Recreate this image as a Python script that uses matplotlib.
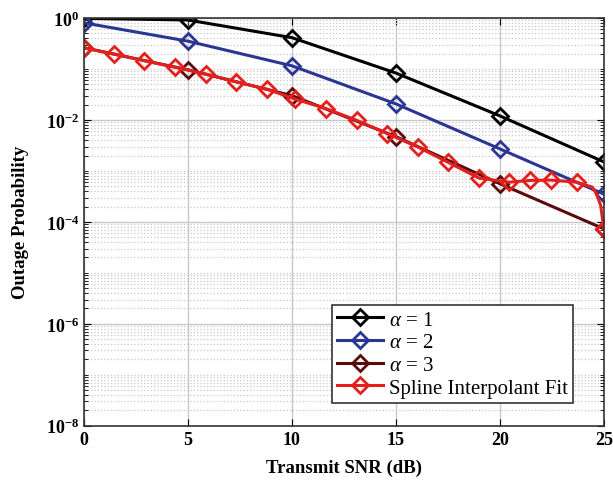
import math
import matplotlib.pyplot as plt
from matplotlib.ticker import FixedLocator, FuncFormatter, NullFormatter

plt.rcParams['font.family'] = ['Liberation Serif', 'DejaVu Serif']
plt.rcParams['mathtext.fontset'] = 'custom'
plt.rcParams['mathtext.rm'] = 'Liberation Serif'
plt.rcParams['mathtext.it'] = 'Liberation Serif:italic'
plt.rcParams['mathtext.bf'] = 'Liberation Serif:bold'

# simulated curves
snr = [0, 5, 10, 15, 20, 25]
alpha1 = [0.98, 0.91, 0.41, 0.083, 0.012, 0.0015]
alpha2 = [0.80, 0.35, 0.115, 0.0206, 0.0027, 3.5e-4]
alpha3 = [0.26, 0.096, 0.030, 0.0047, 5.6e-4, 7.3e-5]

# spline fit markers
fit_x = [0, 1.46, 2.88, 4.4, 5.87, 7.3, 8.8, 10.14, 11.65, 13.12, 14.58,
         16.08, 17.5, 19.0, 20.45, 21.45, 22.45, 23.7, 25]
fit_y = [0.257, 0.195, 0.145, 0.107, 0.079, 0.056, 0.040, 0.0257, 0.0166,
         0.0098, 0.0054, 0.0029, 0.00148, 7.2e-4, 6.0e-4, 6.5e-4, 6.6e-4,
         6.0e-4, 7.3e-5]
# points read along the curved tail between the last two markers
tail_x = [24.45, 24.65, 24.85]
tail_y = [4.8e-4, 3.5e-4, 2.1e-4]

line_x = fit_x[:-1] + tail_x + fit_x[-1:]
line_y = fit_y[:-1] + tail_y + fit_y[-1:]
marks = list(range(len(fit_x) - 1)) + [len(line_x) - 1]

fig = plt.figure(figsize=(6.13, 4.85), dpi=100)
ax = fig.add_axes([0.137, 0.12, 0.848, 0.841])

mk = dict(marker='D', markersize=8, markerfacecolor='none', markeredgewidth=2, linewidth=2.2)
ax.plot(snr, alpha1, color='black', label=r'$\alpha$ = 1', **mk)
ax.plot(snr, alpha2, color='#2b3592', label=r'$\alpha$ = 2', **mk)
ax.plot(snr, alpha3, color='#5a0c0c', label=r'$\alpha$ = 3', **mk)
ax.plot(line_x, line_y, color='#e3201e', markevery=marks, label='Spline Interpolant Fit', **mk)

ax.set_yscale('log')
ax.set_xlim(0, 25)
ax.set_ylim(1e-8, 1)
ax.set_xticks([0, 5, 10, 15, 20, 25])
ax.yaxis.set_major_locator(FixedLocator([10.0 ** k for k in range(-8, 1, 2)]))
minor = [m * 10.0 ** k for k in range(-8, 0) for m in range(1, 10) if not (m == 1 and k % 2 == 0)]
ax.yaxis.set_minor_locator(FixedLocator(minor))
ax.yaxis.set_minor_formatter(NullFormatter())
ax.yaxis.set_major_formatter(FuncFormatter(lambda v, p: r'$\mathbf{10^{%d}}$' % round(math.log10(v))))

ax.grid(True, which='major', color='#c8c8c8', linewidth=1)
ax.grid(True, which='minor', axis='y', color='#c8c8c8', linestyle=':', linewidth=0.9)
ax.tick_params(which='both', direction='in', top=True, right=True)
ax.tick_params(which='major', length=5, labelsize=13)
ax.tick_params(which='minor', length=3)
for t in ax.get_xticklabels():
    t.set_fontweight('bold')
for s in ax.spines.values():
    s.set_linewidth(1.2)
    s.set_color('#333333')

ax.set_xlabel('Transmit SNR (dB)', fontsize=13.5, fontweight='bold', labelpad=8)
ax.set_ylabel('Outage Probability', fontsize=13.5, fontweight='bold')
ax.yaxis.set_label_coords(-0.105, 0.5)

leg = ax.legend(loc='lower left', bbox_to_anchor=(0.477, 0.056), fontsize=15,
                fancybox=False, edgecolor='#333333', framealpha=1,
                handlelength=2.2, borderpad=0.25, labelspacing=0.15, handletextpad=0.3,
                borderaxespad=0)
leg.get_frame().set_linewidth(1.2)

fig.savefig('out.png', dpi=100)
